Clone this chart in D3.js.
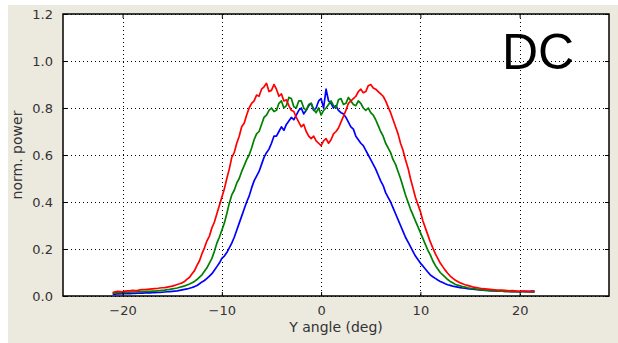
<!DOCTYPE html>
<html>
<head>
<meta charset="utf-8">
<script src="https://cdn.jsdelivr.net/npm/d3@7"></script>
<style>
  html, body { margin: 0; padding: 0; background: #fff; }
  svg { display: block; }
</style>
</head>
<body>
<div id="chart-container"></div>
<script>
// sample grid of the measurement (deg), -21 .. 21.5 in 0.25 steps
const angles = d3.range(-21, 21.6, 0.25);

// one row per degree: deg, +0.25, +0.5, +0.75
const redPower = [
  0.015, 0.018, 0.020, 0.019,
  0.018, 0.021, 0.022, 0.022,
  0.024, 0.023, 0.023, 0.026,
  0.027, 0.027, 0.028, 0.029,
  0.030, 0.031, 0.032, 0.034,
  0.035, 0.036, 0.038, 0.040,
  0.042, 0.045, 0.049, 0.052,
  0.056, 0.062, 0.072, 0.080,
  0.095, 0.108, 0.130, 0.150,
  0.180, 0.205, 0.235, 0.255,
  0.290, 0.315, 0.350, 0.385,
  0.420, 0.455, 0.500, 0.540,
  0.590, 0.610, 0.650, 0.680,
  0.720, 0.735, 0.770, 0.800,
  0.820, 0.830, 0.855, 0.850,
  0.880, 0.890, 0.905, 0.870,
  0.875, 0.900, 0.880, 0.850,
  0.860, 0.830, 0.835, 0.810,
  0.790, 0.785, 0.760, 0.740,
  0.720, 0.730, 0.700, 0.680,
  0.670, 0.680, 0.660, 0.650,
  0.640, 0.660, 0.670, 0.650,
  0.665, 0.690, 0.700, 0.715,
  0.740, 0.765, 0.790, 0.820,
  0.830, 0.840, 0.850, 0.870,
  0.880, 0.865, 0.870, 0.895,
  0.900, 0.885, 0.880, 0.870,
  0.860, 0.850, 0.830, 0.805,
  0.780, 0.750, 0.720, 0.690,
  0.650, 0.620, 0.580, 0.545,
  0.500, 0.460, 0.420, 0.390,
  0.360, 0.320, 0.290, 0.260,
  0.230, 0.205, 0.180, 0.160,
  0.140, 0.125, 0.110, 0.097,
  0.085, 0.076, 0.068, 0.062,
  0.056, 0.052, 0.048, 0.045,
  0.042, 0.039, 0.037, 0.035,
  0.033, 0.031, 0.030, 0.029,
  0.028, 0.027, 0.026, 0.025,
  0.025, 0.025, 0.024, 0.023,
  0.022, 0.023, 0.022, 0.021,
  0.020, 0.021, 0.021, 0.020,
  0.019, 0.020, 0.020
];

const greenPower = [
  0.012, 0.013, 0.014, 0.014,
  0.015, 0.015, 0.016, 0.016,
  0.017, 0.017, 0.018, 0.018,
  0.019, 0.019, 0.020, 0.020,
  0.021, 0.021, 0.022, 0.023,
  0.024, 0.025, 0.027, 0.028,
  0.030, 0.032, 0.034, 0.037,
  0.040, 0.043, 0.047, 0.051,
  0.056, 0.062, 0.070, 0.080,
  0.090, 0.105, 0.120, 0.140,
  0.160, 0.190, 0.225, 0.250,
  0.280, 0.310, 0.350, 0.395,
  0.430, 0.450, 0.480, 0.500,
  0.530, 0.555, 0.580, 0.600,
  0.630, 0.665, 0.690, 0.700,
  0.730, 0.760, 0.770, 0.790,
  0.800, 0.785, 0.790, 0.820,
  0.830, 0.800, 0.810, 0.845,
  0.840, 0.805, 0.800, 0.830,
  0.830, 0.800, 0.790, 0.815,
  0.820, 0.795, 0.780, 0.800,
  0.770, 0.790, 0.800, 0.815,
  0.830, 0.810, 0.800, 0.835,
  0.840, 0.815, 0.820, 0.845,
  0.830, 0.815, 0.810, 0.830,
  0.820, 0.800, 0.790, 0.800,
  0.780, 0.770, 0.750, 0.725,
  0.700, 0.680, 0.650, 0.630,
  0.610, 0.580, 0.560, 0.530,
  0.500, 0.465, 0.430, 0.400,
  0.370, 0.345, 0.320, 0.295,
  0.270, 0.245, 0.220, 0.195,
  0.175, 0.150, 0.130, 0.115,
  0.100, 0.090, 0.080, 0.070,
  0.062, 0.056, 0.050, 0.046,
  0.043, 0.040, 0.038, 0.035,
  0.033, 0.031, 0.030, 0.028,
  0.027, 0.026, 0.025, 0.024,
  0.023, 0.023, 0.022, 0.022,
  0.021, 0.021, 0.020, 0.020,
  0.019, 0.019, 0.018, 0.018,
  0.018, 0.018, 0.017, 0.017,
  0.017, 0.016, 0.016
];

const bluePower = [
  0.008, 0.008, 0.009, 0.009,
  0.010, 0.010, 0.010, 0.010,
  0.011, 0.011, 0.012, 0.012,
  0.012, 0.013, 0.013, 0.013,
  0.014, 0.014, 0.015, 0.015,
  0.016, 0.017, 0.018, 0.019,
  0.020, 0.021, 0.022, 0.024,
  0.026, 0.028, 0.030, 0.033,
  0.036, 0.040, 0.045, 0.052,
  0.060, 0.066, 0.075, 0.085,
  0.095, 0.110, 0.125, 0.140,
  0.160, 0.170, 0.185, 0.205,
  0.225, 0.250, 0.280, 0.310,
  0.340, 0.370, 0.400, 0.425,
  0.460, 0.490, 0.510, 0.530,
  0.560, 0.590, 0.610, 0.625,
  0.650, 0.680, 0.680, 0.700,
  0.720, 0.705, 0.730, 0.745,
  0.760, 0.750, 0.770, 0.790,
  0.800, 0.775, 0.790, 0.810,
  0.820, 0.790, 0.800, 0.830,
  0.840, 0.800, 0.880, 0.830,
  0.820, 0.800, 0.810, 0.790,
  0.780, 0.775, 0.760, 0.740,
  0.720, 0.710, 0.680, 0.665,
  0.650, 0.640, 0.620, 0.600,
  0.580, 0.560, 0.540, 0.515,
  0.490, 0.470, 0.440, 0.420,
  0.400, 0.375, 0.350, 0.325,
  0.300, 0.275, 0.250, 0.230,
  0.210, 0.190, 0.170, 0.155,
  0.140, 0.128, 0.115, 0.102,
  0.090, 0.082, 0.075, 0.068,
  0.062, 0.057, 0.052, 0.048,
  0.045, 0.042, 0.040, 0.038,
  0.036, 0.034, 0.033, 0.031,
  0.030, 0.029, 0.028, 0.027,
  0.026, 0.025, 0.024, 0.024,
  0.023, 0.022, 0.022, 0.021,
  0.021, 0.021, 0.020, 0.020,
  0.020, 0.019, 0.019, 0.019,
  0.019, 0.020, 0.020, 0.020,
  0.020, 0.021, 0.021
];

const xTicks = [-20, -10, 0, 10, 20];
const yTicks = [0.0, 0.2, 0.4, 0.6, 0.8, 1.0, 1.2];

const config = {
    width: 618,
    height: 343,
    left: 63,
    top: 14,
    right: 609,
    bottom: 296,
    xDomain: [-26, 29],
    yDomain: [0, 1.2],
    font: '"DejaVu Sans", sans-serif'
};

const chartRenderer = {
    createChart: function() {
        const svg = d3.select('#chart-container')
            .append('svg')
            .attr('width', config.width)
            .attr('height', config.height);

        // figure background (leaves a thin white edge top/left like the screenshot)
        svg.append('rect')
            .attr('x', 8).attr('y', 5)
            .attr('width', config.width - 8)
            .attr('height', config.height - 5)
            .attr('fill', '#ece9df');

        const x = d3.scaleLinear().domain(config.xDomain).range([config.left, config.right]);
        const y = d3.scaleLinear().domain(config.yDomain).range([config.bottom, config.top]);

        svg.append('rect')
            .attr('x', config.left).attr('y', config.top)
            .attr('width', config.right - config.left)
            .attr('height', config.bottom - config.top)
            .attr('fill', '#fff');

        // dotted grid
        const grid = svg.append('g').attr('stroke', '#000').attr('stroke-width', 1)
            .attr('stroke-dasharray', '1,3');
        grid.selectAll('.gx').data(xTicks).enter().append('line')
            .attr('x1', d => Math.round(x(d)) + 0.5).attr('x2', d => Math.round(x(d)) + 0.5)
            .attr('y1', config.top).attr('y2', config.bottom);
        grid.selectAll('.gy').data(yTicks).enter().append('line')
            .attr('y1', d => Math.round(y(d)) + 0.5).attr('y2', d => Math.round(y(d)) + 0.5)
            .attr('x1', config.left).attr('x2', config.right);

        // curves: blue, green, red (red on top)
        const series = [
            { values: bluePower, color: '#0000ff' },
            { values: greenPower, color: '#008000' },
            { values: redPower, color: '#ff0000' }
        ];
        const line = d3.line()
            .x((d, i) => x(angles[i]))
            .y(d => y(d));
        svg.selectAll('.curve')
            .data(series)
            .enter()
            .append('path')
            .attr('class', 'curve')
            .attr('d', d => line(d.values))
            .attr('fill', 'none')
            .attr('stroke', d => d.color)
            .attr('stroke-width', 1.7)
            .attr('stroke-linejoin', 'round');

        // axes with inward ticks on all four sides
        const tickLen = 4;
        const fmtX = d => (d < 0 ? '\u2212' + Math.abs(d) : String(d));
        svg.append('g')
            .attr('transform', `translate(0,${config.bottom})`)
            .call(d3.axisBottom(x).tickValues(xTicks).tickSizeInner(-tickLen).tickSizeOuter(0).tickPadding(10).tickFormat(fmtX));
        svg.append('g')
            .attr('transform', `translate(0,${config.top})`)
            .call(d3.axisTop(x).tickValues(xTicks).tickSizeInner(-tickLen).tickSizeOuter(0).tickFormat(''));
        svg.append('g')
            .attr('transform', `translate(${config.left},0)`)
            .call(d3.axisLeft(y).tickValues(yTicks).tickSizeInner(-tickLen).tickSizeOuter(0).tickPadding(10).tickFormat(d3.format('.1f')));
        svg.append('g')
            .attr('transform', `translate(${config.right},0)`)
            .call(d3.axisRight(y).tickValues(yTicks).tickSizeInner(-tickLen).tickSizeOuter(0).tickFormat(''));

        svg.selectAll('.domain').remove();
        svg.selectAll('.tick line').attr('stroke', '#000').attr('stroke-width', 1);
        svg.selectAll('.tick text')
            .attr('font-family', config.font)
            .attr('font-size', 13)
            .attr('fill', '#333');

        // frame
        svg.append('rect')
            .attr('x', config.left).attr('y', config.top)
            .attr('width', config.right - config.left)
            .attr('height', config.bottom - config.top)
            .attr('fill', 'none')
            .attr('stroke', '#000')
            .attr('stroke-width', 1.5);

        // axis labels
        svg.append('text')
            .attr('x', (config.left + config.right) / 2)
            .attr('y', 332)
            .attr('text-anchor', 'middle')
            .attr('font-family', config.font)
            .attr('font-size', 14)
            .attr('fill', '#333')
            .text('Y angle (deg)');
        svg.append('text')
            .attr('transform', `translate(22,${(config.top + config.bottom) / 2}) rotate(-90)`)
            .attr('text-anchor', 'middle')
            .attr('font-family', config.font)
            .attr('font-size', 14)
            .attr('fill', '#333')
            .text('norm. power');

        // panel tag
        svg.append('text')
            .attr('x', 502)
            .attr('y', 69)
            .attr('font-family', '"Liberation Sans", Arial, sans-serif')
            .attr('font-size', 50)
            .attr('fill', '#000')
            .text('DC');
    }
};

chartRenderer.createChart();
</script>
</body>
</html>
